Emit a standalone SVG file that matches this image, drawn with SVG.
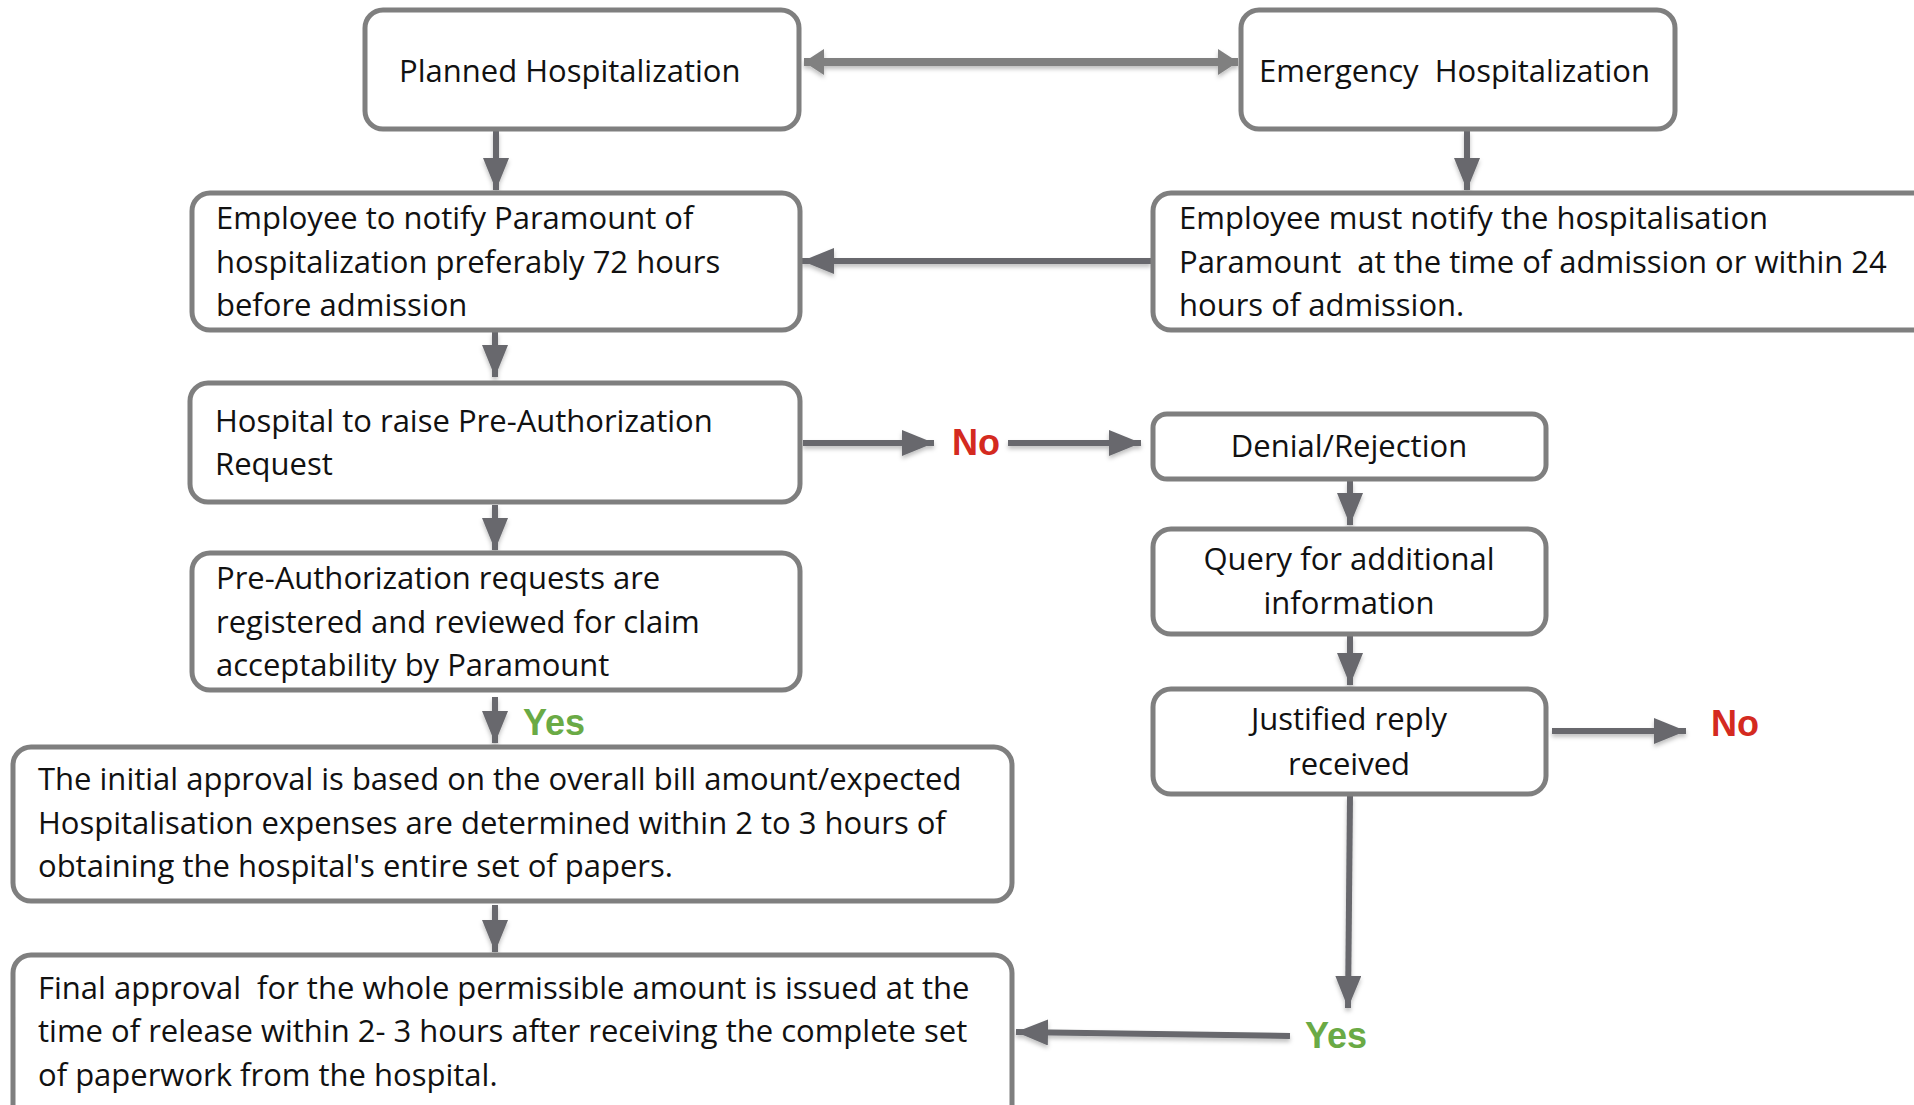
<svg xmlns="http://www.w3.org/2000/svg" width="1914" height="1105" viewBox="0 0 1914 1105">
<style>
.box{fill:#fff;stroke:#7f7f7f;stroke-width:5}
.t{font-family:"Open Sans","Liberation Sans",sans-serif;font-size:31px;fill:#111}
.c{text-anchor:middle}
.no{font-family:"Liberation Sans",Arial,sans-serif;font-weight:bold;font-size:36px;fill:#d42a20}
.yes{font-family:"Liberation Sans",Arial,sans-serif;font-weight:bold;font-size:36px;fill:#6aaa45}
.ln{fill:none;stroke:#67686d;stroke-width:6;marker-end:url(#ah)}
.dbl{fill:none;stroke:#808080;stroke-width:8;marker-start:url(#ah2);marker-end:url(#ah2)}
</style>
<defs>
<marker id="ah" markerUnits="userSpaceOnUse" markerWidth="34" markerHeight="26" refX="32" refY="13" orient="auto">
<path d="M0,0 L32,13 L0,26 z" fill="#67686d"/>
</marker>
<marker id="ah2" markerUnits="userSpaceOnUse" markerWidth="22" markerHeight="26" refX="20" refY="13" orient="auto-start-reverse">
<path d="M0,0 L20,13 L0,26 z" fill="#808080"/>
</marker>
<filter id="sh" x="-10%" y="-10%" width="120%" height="130%">
<feDropShadow dx="0" dy="3" stdDeviation="2" flood-color="#000" flood-opacity="0.25"/>
</filter>
</defs>

<g id="connectors" filter="url(#sh)">
<path class="dbl" d="M804,62 H1238"/>
<path class="ln" d="M496,131 V190"/>
<path class="ln" d="M1467,131 V190"/>
<path class="ln" d="M1151,261 H802"/>
<path class="ln" d="M495,332 V377"/>
<path class="ln" d="M803,443 H934"/>
<path class="ln" d="M1008,443 H1141"/>
<path class="ln" d="M495,505 V550"/>
<path class="ln" d="M1350,481 V525"/>
<path class="ln" d="M1350,636 V685"/>
<path class="ln" d="M1552,731 H1686"/>
<path class="ln" d="M495,697 V743"/>
<path class="ln" d="M1350,796 L1348,1008"/>
<path class="ln" d="M495,905 V952"/>
<path class="ln" d="M1290,1036 L1016,1032"/>
</g>

<g id="planned"><rect class="box" x="365" y="10" width="434" height="119" rx="18"/>
<text class="t" x="399" y="82">Planned Hospitalization</text></g>

<g id="emergency"><rect class="box" x="1241" y="10" width="434" height="119" rx="18"/>
<text class="t" x="1259" y="82" xml:space="preserve">Emergency  Hospitalization</text></g>

<g id="notify-planned"><rect class="box" x="192" y="193" width="608" height="137" rx="18"/>
<text class="t" x="216" y="229">Employee to notify Paramount of</text>
<text class="t" x="216" y="273">hospitalization preferably 72 hours</text>
<text class="t" x="216" y="316">before admission</text></g>

<g id="notify-emergency"><rect class="box" x="1153" y="193" width="800" height="137" rx="18"/>
<text class="t" x="1179" y="229">Employee must notify the hospitalisation</text>
<text class="t" x="1179" y="273" xml:space="preserve">Paramount  at the time of admission or within 24</text>
<text class="t" x="1179" y="316">hours of admission.</text></g>

<g id="preauth-request"><rect class="box" x="190" y="383" width="610" height="119" rx="18"/>
<text class="t" x="215" y="432">Hospital to raise Pre-Authorization</text>
<text class="t" x="215" y="475">Request</text></g>

<g id="preauth-review"><rect class="box" x="192" y="553" width="608" height="137" rx="18"/>
<text class="t" x="216" y="589">Pre-Authorization requests are</text>
<text class="t" x="216" y="633">registered and reviewed for claim</text>
<text class="t" x="216" y="676">acceptability by Paramount</text></g>

<g id="initial-approval"><rect class="box" x="13" y="747" width="999" height="154" rx="18"/>
<text class="t" x="38" y="790">The initial approval is based on the overall bill amount/expected</text>
<text class="t" x="38" y="834">Hospitalisation expenses are determined within 2 to 3 hours of</text>
<text class="t" x="38" y="877">obtaining the hospital's entire set of papers.</text></g>

<g id="final-approval"><rect class="box" x="13" y="955" width="999" height="170" rx="18"/>
<text class="t" x="38" y="999" xml:space="preserve">Final approval  for the whole permissible amount is issued at the</text>
<text class="t" x="38" y="1042">time of release within 2- 3 hours after receiving the complete set</text>
<text class="t" x="38" y="1086">of paperwork from the hospital.</text></g>

<g id="denial"><rect class="box" x="1153" y="414" width="393" height="65" rx="14"/>
<text class="t c" x="1349" y="457">Denial/Rejection</text></g>

<g id="query"><rect class="box" x="1153" y="529" width="393" height="105" rx="18"/>
<text class="t c" x="1349" y="570">Query for additional</text>
<text class="t c" x="1349" y="614">information</text></g>

<g id="justified"><rect class="box" x="1153" y="689" width="393" height="105" rx="18"/>
<text class="t c" x="1349" y="730">Justified reply</text>
<text class="t c" x="1349" y="775">received</text></g>

<g id="labels">
<text class="no" x="952" y="455">No</text>
<text class="no" x="1711" y="736">No</text>
<text class="yes" x="523" y="735">Yes</text>
<text class="yes" x="1305" y="1048">Yes</text>
</g>
</svg>
